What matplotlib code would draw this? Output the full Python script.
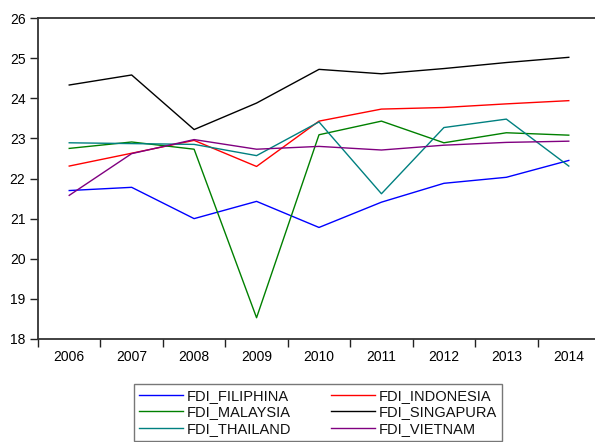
import matplotlib
matplotlib.use("Agg")
import matplotlib.pyplot as plt

plt.rcParams['font.family'] = ['Liberation Sans', 'DejaVu Sans']

years = ['2006', '2007', '2008', '2009', '2010', '2011', '2012', '2013', '2014']
fdi_filiphina = [21.70, 21.78, 21.00, 21.43, 20.78, 21.41, 21.88, 22.03, 22.45]
fdi_indonesia = [22.31, 22.63, 22.95, 22.30, 23.43, 23.73, 23.77, 23.86, 23.94]
fdi_malaysia = [22.75, 22.91, 22.73, 18.53, 23.09, 23.43, 22.89, 23.14, 23.08]
fdi_singapura = [24.33, 24.58, 23.22, 23.88, 24.72, 24.61, 24.74, 24.89, 25.02]
fdi_thailand = [22.89, 22.87, 22.85, 22.57, 23.41, 21.62, 23.27, 23.48, 22.31]
fdi_vietnam = [21.58, 22.62, 22.97, 22.73, 22.80, 22.71, 22.83, 22.90, 22.93]

series = [
    ('FDI_FILIPHINA', fdi_filiphina, '#0000ff'),
    ('FDI_INDONESIA', fdi_indonesia, '#ff0000'),
    ('FDI_MALAYSIA', fdi_malaysia, '#008000'),
    ('FDI_SINGAPURA', fdi_singapura, '#000000'),
    ('FDI_THAILAND', fdi_thailand, '#008080'),
    ('FDI_VIETNAM', fdi_vietnam, '#800080'),
]

fig = plt.figure(figsize=(5.95, 4.42), dpi=100)
ax = fig.add_axes([38/595, 1-339/442, 562/595, (339-18)/442])

x = list(range(len(years)))
handles = []
for name, vals, col in series:
    h, = ax.plot(x, vals, color=col, lw=1.0, label=name)
    handles.append(h)

ax.set_xlim(-0.5, len(years) - 0.5)
ax.set_ylim(18, 26)
ax.set_yticks(range(18, 27))
ax.set_xticks(x)
ax.set_xticklabels(years)
ax.set_xticks([i + 0.5 for i in range(-1, len(years))], minor=True)
ax.tick_params(axis='x', which='major', length=0, pad=8, labelsize=10)
ax.tick_params(axis='x', which='minor', length=6, width=1, direction='out', color='#222222')
ax.tick_params(axis='y', length=6, width=1, direction='out', pad=3, labelsize=10, color='#222222')
for s in ax.spines.values():
    s.set_color('#333333')
    s.set_linewidth(1.3)

# row-wise order: matplotlib fills legend columns first
order = [0, 2, 4, 1, 3, 5]
hs = [handles[i] for i in order]
ls = [series[i][0] for i in order]
leg = fig.legend(hs, ls, loc='upper left', bbox_to_anchor=(134/595, -0.05, (502-134)/595, 1-384/442 + 0.05),
                 mode='expand', ncol=2, fontsize=10.5, frameon=True, fancybox=False,
                 edgecolor='#555555', handlelength=3.0, handletextpad=0.25,
                 labelspacing=0.16, borderpad=0.35, borderaxespad=0)
leg.get_frame().set_linewidth(1.0)
for t in leg.get_texts():
    t.set_color('#111111')

fig.savefig('out.png', dpi=100)
